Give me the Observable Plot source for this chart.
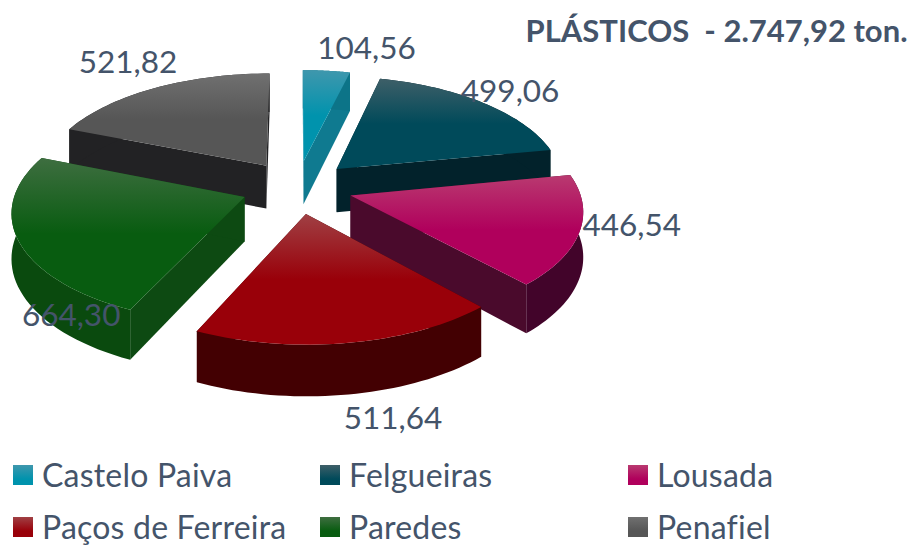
<!DOCTYPE html>
<html lang="pt">
<head>
<meta charset="utf-8">
<style>
  html,body{margin:0;padding:0;background:#fff;overflow:hidden}
  svg{display:block}
  #legend{position:relative;height:90px;font:32px/30px Lato,sans-serif;color:#44546a;font-variant-ligatures:none;letter-spacing:.2px}
  .item{position:absolute;display:flex;align-items:center;gap:9px;white-space:nowrap}
  .sw{width:20px;height:20px;display:inline-block}
</style>
<script src="https://cdn.jsdelivr.net/npm/d3@7"></script>
<script src="https://cdn.jsdelivr.net/npm/@observablehq/plot@0.6"></script>
</head>
<body>
<div id="chart"></div>
<div id="legend"></div>
<script>
const categories = ["Castelo Paiva","Felgueiras","Lousada","Paços de Ferreira","Paredes","Penafiel"];
const values = [104.56,499.06,446.54,511.64,664.30,521.82];
const titleText = "PLÁSTICOS  - 2.747,92 ton.";

const topLight = ["#3f97ad","#3e5f68","#b93a70","#a04044","#3e6e40","#707070"];
const topMain  = ["#0093ad","#004a5a","#b0005c","#990009","#085c10","#565656"];
const wallOuter= ["#0c7488","#02222b","#42042a","#430002","#0a4a0e","#222224"];
const wallSide = ["#0f7a90","#02222b","#4a0a2c","#430002","#0d4a12","#222224"];
const labelDx  = [39,20,40,42,65,-22];
const labelDy  = [-18,-8,-7,69,74,-22];

const layout = {cx:296.5,cy:186.5,rx:228,ry:108,persp:0.12,explode:0.245,depth:44,width:913,height:455};
const total = d3.sum(values);
const fmt = v => v.toFixed(2).replace(".",",");

let acc = 0;
const slices = values.map((v,i)=>{
  const a0 = acc/total*2*Math.PI; acc += v;
  const a1 = acc/total*2*Math.PI;
  return {i,a0,a1,mid:(a0+a1)/2};
});
function project(s,r,a,drop){
  const X = layout.explode*Math.sin(s.mid)+r*Math.sin(a);
  const Y = -layout.explode*Math.cos(s.mid)-r*Math.cos(a);
  const k = 1/(1-layout.persp*Y);
  return {x:layout.cx+layout.rx*X*k, y:layout.cy+layout.ry*Y*k+(drop?layout.depth*k:0)};
}
const arc = (s,drop)=>d3.range(0,41).map(j=>project(s,1,s.a0+(s.a1-s.a0)*j/40,drop));
const fillPoly = (pts,fill)=>Plot.line(pts,{x:"x",y:"y",fill,stroke:"none"});

const order = [5,0,1,4,2,3];
const marks = [];
for(const i of order){
  const s = slices[i];
  const apex = project(s,0,0,false), apexD = project(s,0,0,true);
  const top = arc(s,false), bot = arc(s,true);
  marks.push(fillPoly([apex,top[0],bot[0],apexD],wallSide[i]));
  marks.push(fillPoly([apex,top[40],bot[40],apexD],wallSide[i]));
  marks.push(fillPoly([...top,...bot.slice().reverse()],wallOuter[i]));
  marks.push(fillPoly([apex,...top],`url(#top${i})`));
}
const labelFont = {fontSize:31.5,fill:"#44546a",fontFamily:"Lato, sans-serif",textAnchor:"middle"};
slices.forEach((s,i)=>{
  const p = project(s,1.05,s.mid,false);
  marks.push(Plot.text([{...p,t:fmt(values[i])}],{x:"x",y:"y",text:"t",...labelFont,dx:labelDx[i],dy:labelDy[i]}));
});
marks.push(Plot.text([titleText],{frameAnchor:"top-right",dx:-6,dy:19,fontSize:31,fontWeight:700,fill:"#44546a",fontFamily:"Lato, sans-serif",text:d=>d}));

const plot = Plot.plot({
  width:layout.width,height:layout.height,margin:0,
  x:{domain:[0,layout.width],range:[0,layout.width],axis:null},
  y:{domain:[0,layout.height],range:[0,layout.height],axis:null},
  style:{background:"transparent"},
  marks
});
const defs = document.createElementNS("http://www.w3.org/2000/svg","defs");
defs.innerHTML = categories.map((c,i)=>`<linearGradient id="top${i}" x1="0" y1="0" x2="0" y2="1"><stop offset="0" stop-color="${topLight[i]}"/><stop offset="0.5" stop-color="${topMain[i]}"/><stop offset="1" stop-color="${topMain[i]}"/></linearGradient>`).join("");
plot.insertBefore(defs,plot.firstChild);
document.getElementById("chart").append(plot);

const legend = document.getElementById("legend");
const colX = [13,320,628], rowY = [5,56.5];
categories.forEach((c,i)=>{
  const el = document.createElement("div");
  el.className="item";
  el.style.left = colX[i%3]+"px";
  el.style.top = rowY[Math.floor(i/3)]+"px";
  el.innerHTML = `<span class="sw" style="background:linear-gradient(${topLight[i]},${topMain[i]} 70%)"></span><span>${c}</span>`;
  legend.append(el);
});
</script>
</body>
</html>
